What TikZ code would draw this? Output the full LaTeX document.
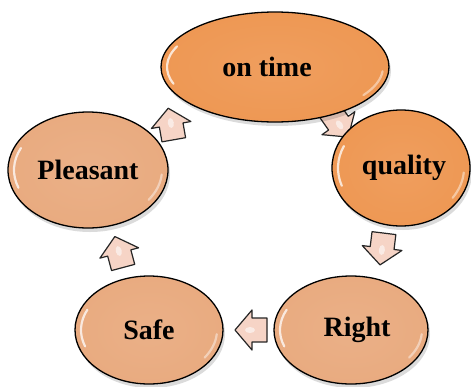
\documentclass[tikz,border=0pt]{standalone}
\usepackage{fontspec}
\setmainfont{Liberation Serif}
\usetikzlibrary{shapes.geometric}
\definecolor{deep}{RGB}{238,152,84}
\definecolor{soft}{RGB}{233,171,128}
\definecolor{arrowfill}{RGB}{246,212,198}
\newcommand\glosshl[4]{%
  \draw[hl] ({#1+(#3-6)*cos(160)},{#2+(#4-6)*sin(160)}) arc[start angle=160,end angle=205,x radius={#3-6},y radius={#4-6}];
  \draw[hl,opacity=.45] ({#1+(#3-6)*cos(5)},{#2+(#4-6)*sin(5)}) arc[start angle=5,end angle=35,x radius={#3-6},y radius={#4-6}];
}
\newcommand\mkbubble[8]{%
  \fill[black,opacity=.14] (#2+2,#3+4) ellipse [x radius=#4/2, y radius=#5/2];
  \node[bubble, minimum width=#4pt, minimum height=#5pt, inner color=#6!94!white, outer color=#6] (#1) at (#2,#3) {};
  \glosshl{#2}{#3}{#4/2}{#5/2}
  \node[lbl] (#1-t) at ([xshift=#8pt]#1.center) {#7};
}
\tikzset{
  bubble/.style={ellipse, draw=black, line width=1.3pt, inner sep=0pt},
  lbl/.style={font=\fontsize{28}{30}\selectfont\bfseries, text=black, inner sep=0pt},
  hl/.style={white, opacity=.75, line width=2.2pt, line cap=round},
  blockarr/.pic={
    \draw[line width=1.2pt, draw=black!85, fill=arrowfill, line join=round]
      (-16,-12) -- (-1,-12) -- (-1,-20) -- (16,0) -- (-1,20) -- (-1,12) -- (-16,12) -- cycle;
    \fill[white,opacity=.55] (1,0) ellipse [x radius=5, y radius=3];
  }
}
\begin{document}
\begin{tikzpicture}[x=1pt,y=-1pt]
\useasboundingbox (0,0) rectangle (471,386);
\fill[white] (0,0) rectangle (471,386);
% block arrows (behind the bubbles)
\pic[rotate=-55] (a1) at (339,124) {blockarr};
\pic[rotate=-97] (a2) at (382,249) {blockarr};
\pic[rotate=180] (a3) at (251,330) {blockarr};
\pic[rotate=105] (a4) at (119,252) {blockarr};
\pic[rotate=100] (a5) at (171,124) {blockarr};
% bubbles
\mkbubble{ontime}{275}{67}{228}{110}{deep}{on time}{-8}
\mkbubble{quality}{401}{168}{138}{116}{deep}{quality}{3}
\mkbubble{right}{351}{330}{154}{108}{soft}{Right}{6}
\mkbubble{safe}{149}{330}{148}{108}{soft}{Safe}{0}
\mkbubble{pleasant}{88}{170}{160}{116}{soft}{Pleasant}{0}
\end{tikzpicture}
\end{document}
